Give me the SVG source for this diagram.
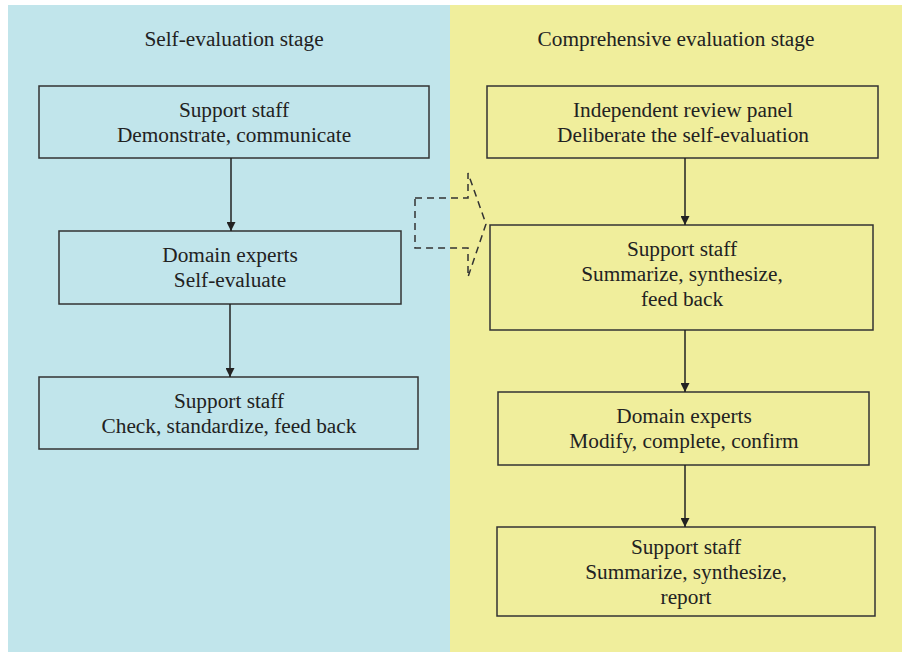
<svg xmlns="http://www.w3.org/2000/svg" width="902" height="652" viewBox="0 0 902 652">
<style>
.box{fill:none;stroke:#333;stroke-width:1.5}
text{font-family:"Liberation Serif","Times New Roman",serif;font-size:21.3px;fill:#222;text-anchor:middle}
.con{stroke:#222;stroke-width:1.5;fill:none}
</style>
<defs>
<marker id="ah" viewBox="0 0 10 10" refX="10" refY="5" markerWidth="10" markerHeight="9" markerUnits="userSpaceOnUse" orient="auto">
<path d="M0,0 L10,5 L0,10 z" fill="#222"/>
</marker>
</defs>
<rect width="902" height="652" fill="#fff"/>
<rect x="8" y="5" width="442" height="647" fill="#c1e5eb"/>
<rect x="450" y="5" width="452" height="647" fill="#f0ee9c"/>
<text x="234" y="46">Self-evaluation stage</text>
<text x="676" y="46">Comprehensive evaluation stage</text>
<g id="l1"><rect class="box" x="39" y="86" width="390" height="72"/><text x="234" y="117">Support staff</text><text x="234" y="142">Demonstrate, communicate</text></g>
<g id="l2"><rect class="box" x="59" y="231" width="342" height="73"/><text x="230" y="262">Domain experts</text><text x="230" y="287">Self-evaluate</text></g>
<g id="l3"><rect class="box" x="39" y="377" width="379" height="72"/><text x="229" y="408">Support staff</text><text x="229" y="433">Check, standardize, feed back</text></g>
<g id="r1"><rect class="box" x="487" y="86" width="391" height="72"/><text x="683" y="117">Independent review panel</text><text x="683" y="142">Deliberate the self-evaluation</text></g>
<g id="r2"><rect class="box" x="490" y="225" width="383" height="105"/><text x="682" y="256">Support staff</text><text x="682" y="281">Summarize, synthesize,</text><text x="682" y="306">feed back</text></g>
<g id="r3"><rect class="box" x="498" y="392" width="371" height="73"/><text x="684" y="423">Domain experts</text><text x="684" y="448">Modify, complete, confirm</text></g>
<g id="r4"><rect class="box" x="497" y="527" width="378" height="89"/><text x="686" y="554">Support staff</text><text x="686" y="579">Summarize, synthesize,</text><text x="686" y="604">report</text></g>
<g id="connectors">
<line class="con" x1="231" y1="158" x2="231" y2="231" marker-end="url(#ah)"/>
<line class="con" x1="230" y1="304" x2="230" y2="377" marker-end="url(#ah)"/>
<line class="con" x1="685" y1="158" x2="685" y2="225" marker-end="url(#ah)"/>
<line class="con" x1="685" y1="330" x2="685" y2="392" marker-end="url(#ah)"/>
<line class="con" x1="685" y1="465" x2="685" y2="527" marker-end="url(#ah)"/>
<path d="M415,198 H468 V173 L486,224 L468,277 V248 H415 Z" fill="none" stroke="#333" stroke-width="1.5" stroke-dasharray="7,5"/>
</g>
</svg>
